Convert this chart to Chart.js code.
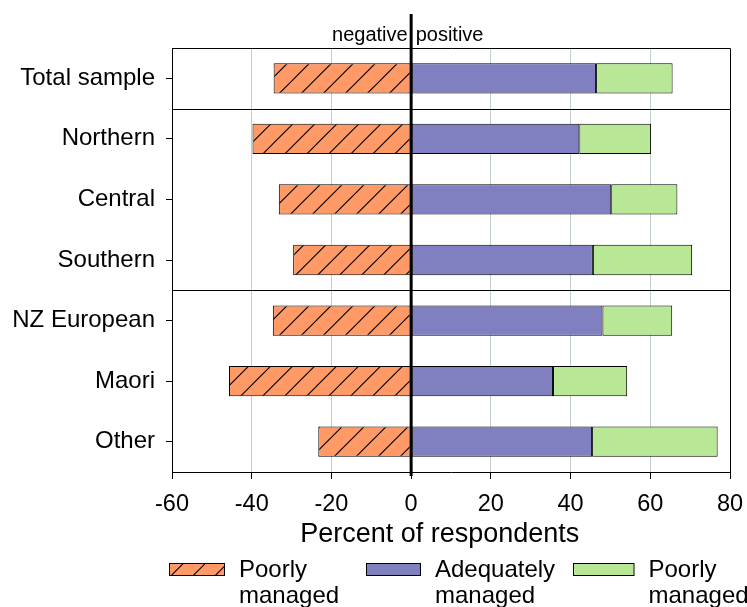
<!DOCTYPE html>
<html>
<head>
<meta charset="utf-8">
<script src="https://cdn.jsdelivr.net/npm/chart.js@4"></script>
<style>
  html, body { margin: 0; padding: 0; background: #ffffff; }
  #wrap { width: 747px; height: 607px; }
</style>
</head>
<body>
<div id="wrap"><canvas id="c" width="747" height="607"></canvas></div>
<script>
// ---- data ----
const categories = ['Total sample', 'Northern', 'Central', 'Southern', 'NZ European', 'Maori', 'Other'];
const poorlyManagedNeg = [-34.5, -39.8, -33.2, -29.6, -34.7, -45.7, -23.3];
const adequatelyManaged = [46.4, 42.2, 50.2, 45.6, 48.0, 35.6, 45.4];
const poorlyManagedPos = [19.2, 18.0, 16.6, 24.9, 17.5, 18.6, 31.5];
const xTicks = [-60, -40, -20, 0, 20, 40, 60, 80];
const seriesNames = ['Poorly managed', 'Adequately managed', 'Poorly managed'];
const groupBreaks = [0.5, 3.5]; // boundaries between category groups (in category index units)

const FONT = '"Liberation Sans", Arial, Helvetica, sans-serif';
Chart.defaults.font.family = FONT;
Chart.defaults.color = '#000';

// hatch pattern for the negative bars
function makeHatch() {
  const s = 22;
  const c = document.createElement('canvas');
  c.width = s; c.height = s;
  const g = c.getContext('2d');
  g.fillStyle = '#FF9966';
  g.fillRect(0, 0, s, s);
  g.strokeStyle = '#000';
  g.lineWidth = 1.1;
  const off = 20.7;
  for (let k = -2; k <= 2; k++) {
    const cc = off + k * s;
    g.beginPath();
    g.moveTo(cc - 30, 30);
    g.lineTo(cc + 30, -30);
    g.stroke();
  }
  return g.createPattern(c, 'repeat');
}
const hatch = makeHatch();

const GRID = '#bfd0c8';

const decor = {
  id: 'decor',
  afterDatasetsDraw(chart) {
    const { ctx, chartArea: a, scales: { x, y } } = chart;
    ctx.save();
    ctx.strokeStyle = '#000';
    ctx.lineWidth = 1;
    // frame: top and right
    ctx.beginPath();
    ctx.moveTo(a.left, Math.round(a.top) + 0.5);
    ctx.lineTo(Math.round(a.right) + 0.5, Math.round(a.top) + 0.5);
    ctx.lineTo(Math.round(a.right) + 0.5, a.bottom);
    ctx.stroke();
    // group separators
    groupBreaks.forEach(b => {
      const py = Math.round(y.getPixelForValue(b)) + 0.5;
      ctx.beginPath();
      ctx.moveTo(a.left, py);
      ctx.lineTo(a.right, py);
      ctx.stroke();
    });
    // zero line
    const zx = x.getPixelForValue(0);
    ctx.lineWidth = 3;
    ctx.beginPath();
    ctx.moveTo(zx, 14);
    ctx.lineTo(zx, a.bottom + 4);
    ctx.stroke();
    // negative / positive labels
    ctx.fillStyle = '#000';
    ctx.font = '20px ' + FONT;
    ctx.textBaseline = 'alphabetic';
    ctx.textAlign = 'right';
    ctx.fillText('negative', zx - 3.5, 40.5);
    ctx.textAlign = 'left';
    ctx.fillText('positive', zx + 4.5, 40.5);
    // legend
    const boxX = [169, 366, 573];
    const textX = [239, 435, 648.5];
    ctx.font = '24px ' + FONT;
    chart.data.datasets.forEach((ds, i) => {
      const w = textX[i] - 15 - boxX[i];
      ctx.fillStyle = ds.backgroundColor;
      ctx.fillRect(boxX[i], 563.5, w, 12);
      ctx.lineWidth = 1;
      ctx.strokeStyle = '#000';
      ctx.strokeRect(boxX[i] + 0.5, 563.5, w, 12);
      ctx.fillStyle = '#000';
      ctx.textAlign = 'left';
      const lines = ds.label.split(' ');
      lines.forEach((ln, j) => ctx.fillText(ln, textX[i], 577 + j * 26));
    });
    ctx.restore();
  }
};

new Chart(document.getElementById('c'), {
  type: 'bar',
  data: {
    labels: categories,
    datasets: [
      { label: seriesNames[0], data: poorlyManagedNeg, backgroundColor: hatch },
      { label: seriesNames[1], data: adequatelyManaged, backgroundColor: '#8080C0' },
      { label: seriesNames[2], data: poorlyManagedPos, backgroundColor: '#B8E896' }
    ]
  },
  options: {
    indexAxis: 'y',
    responsive: false,
    devicePixelRatio: 1,
    animation: false,
    events: [],
    layout: { padding: { top: 48, right: 17, bottom: 49, left: 0 } },
    datasets: {
      bar: {
        categoryPercentage: 1,
        barPercentage: 0.5,
        borderColor: '#000',
        borderWidth: 1,
        borderSkipped: false
      }
    },
    plugins: {
      legend: { display: false },
      tooltip: { enabled: false },
      title: { display: false }
    },
    scales: {
      x: {
        type: 'linear',
        position: 'bottom',
        stacked: true,
        min: xTicks[0],
        max: xTicks[xTicks.length - 1],
        afterBuildTicks: s => { s.ticks = xTicks.map(v => ({ value: v })); },
        afterFit: s => { s.height = 86; s.paddingLeft = 0; s.paddingRight = 0; },
        ticks: { font: { size: 23.5 }, color: '#000', padding: 11, maxRotation: 0 },
        grid: {
          color: c => (c.tick && (c.tick.value === 0 || c.tick.value === xTicks[0] || c.tick.value === xTicks[xTicks.length - 1])) ? 'rgba(0,0,0,0)' : GRID,
          lineWidth: 1,
          tickColor: '#000',
          tickLength: 7
        },
        border: { display: true, color: '#000', width: 1 },
        title: {
          display: true,
          text: 'Percent of respondents\u00A0\u00A0\u00A0',
          font: { size: 27 },
          color: '#000',
          padding: { top: 0, bottom: 7 }
        }
      },
      y: {
        type: 'category',
        stacked: true,
        afterFit: s => { s.width = 172; },
        ticks: { font: { size: 24 }, color: '#000', padding: 11 },
        grid: {
          offset: false,
          drawOnChartArea: false,
          tickColor: '#000',
          tickLength: 6
        },
        border: { display: true, color: '#000', width: 1 }
      }
    }
  },
  plugins: [decor]
});
</script>
</body>
</html>
